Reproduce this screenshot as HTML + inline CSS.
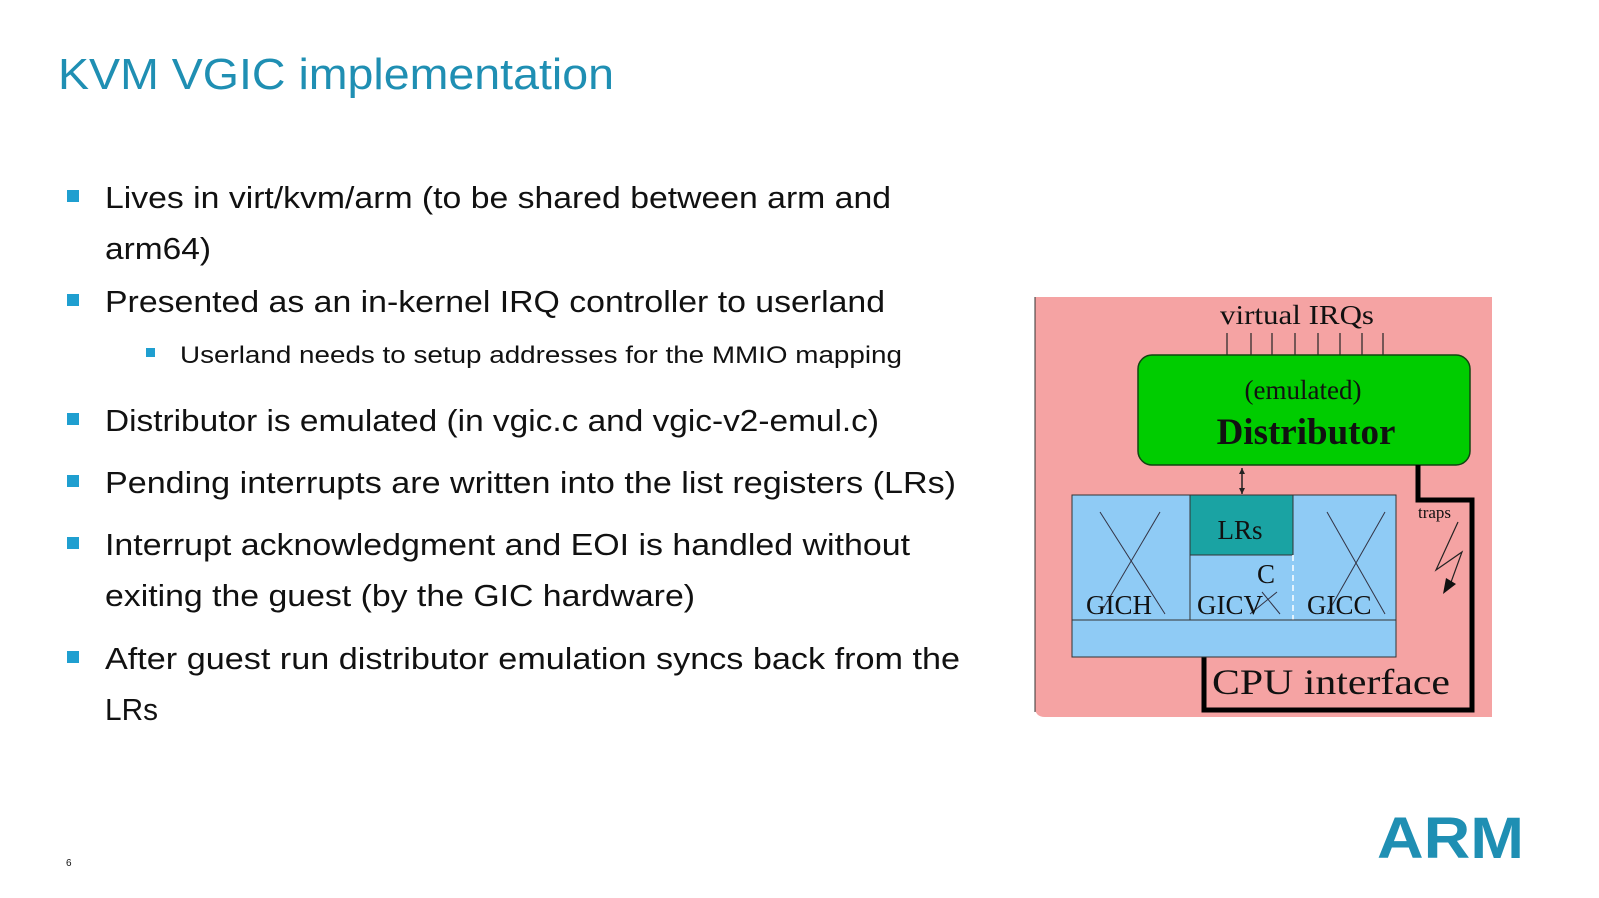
<!DOCTYPE html>
<html><head><meta charset="utf-8"><style>
html,body{margin:0;padding:0;background:#fff;}
svg{display:block}
</style></head><body>
<svg width="1599" height="898" viewBox="0 0 1599 898" xmlns="http://www.w3.org/2000/svg" font-family="Liberation Sans, sans-serif">
<rect width="1599" height="898" fill="#fff"/>
<text x="58" y="89" font-size="44" fill="#1f8fb3" textLength="556" lengthAdjust="spacingAndGlyphs">KVM VGIC implementation</text>
<g fill="#1f9fd0">
<rect x="67" y="190" width="12" height="12"/>
<rect x="67" y="294" width="12" height="12"/>
<rect x="146" y="348" width="9" height="9"/>
<rect x="67" y="413" width="12" height="12"/>
<rect x="67" y="475" width="12" height="12"/>
<rect x="67" y="537" width="12" height="12"/>
<rect x="67" y="651" width="12" height="12"/>
</g>
<g fill="#111" font-size="31">
<text x="105" y="208" textLength="786" lengthAdjust="spacingAndGlyphs">Lives in virt/kvm/arm (to be shared between arm and</text>
<text x="105" y="259" textLength="106" lengthAdjust="spacingAndGlyphs">arm64)</text>
<text x="105" y="312" textLength="780" lengthAdjust="spacingAndGlyphs">Presented as an in-kernel IRQ controller to userland</text>
<text x="180" y="363" font-size="24" textLength="722" lengthAdjust="spacingAndGlyphs">Userland needs to setup addresses for the MMIO mapping</text>
<text x="105" y="431" textLength="774" lengthAdjust="spacingAndGlyphs">Distributor is emulated (in vgic.c and vgic-v2-emul.c)</text>
<text x="105" y="493" textLength="851" lengthAdjust="spacingAndGlyphs">Pending interrupts are written into the list registers (LRs)</text>
<text x="105" y="555" textLength="805" lengthAdjust="spacingAndGlyphs">Interrupt acknowledgment and EOI is handled without</text>
<text x="105" y="606" textLength="590" lengthAdjust="spacingAndGlyphs">exiting the guest (by the GIC hardware)</text>
<text x="105" y="669" textLength="855" lengthAdjust="spacingAndGlyphs">After guest run distributor emulation syncs back from the</text>
<text x="105" y="720" textLength="53" lengthAdjust="spacingAndGlyphs">LRs</text>
</g>
<text x="66" y="866" font-size="10" fill="#111">6</text>
<text x="1377" y="858" font-size="58" font-weight="bold" fill="#1f8fb3" textLength="147" lengthAdjust="spacingAndGlyphs">ARM</text>

<!-- diagram -->
<g font-family="Liberation Serif, serif">
<path d="M1035 297 H1492 V717 H1045 Q1035 717 1035 707 Z" fill="#f5a3a3"/>
<line x1="1035" y1="297" x2="1035" y2="712" stroke="#333" stroke-width="1"/>
<text x="1220" y="324" font-size="27" fill="#111" textLength="154" lengthAdjust="spacingAndGlyphs">virtual IRQs</text>
<g stroke="#222" stroke-width="1.2">
<line x1="1227" y1="333" x2="1227" y2="356"/><line x1="1251" y1="333" x2="1251" y2="356"/>
<line x1="1272" y1="333" x2="1272" y2="356"/><line x1="1295" y1="333" x2="1295" y2="356"/>
<line x1="1318" y1="333" x2="1318" y2="356"/><line x1="1340" y1="333" x2="1340" y2="356"/>
<line x1="1362" y1="333" x2="1362" y2="356"/><line x1="1383" y1="333" x2="1383" y2="356"/>
</g>
<rect x="1138" y="355" width="332" height="110" rx="14" fill="#00cc00" stroke="#114411" stroke-width="1.5"/>
<text x="1303" y="399" font-size="27" text-anchor="middle" fill="#111">(emulated)</text>
<text x="1306" y="444" font-size="37" font-weight="bold" text-anchor="middle" fill="#111">Distributor</text>
<path d="M1418 465 V500 H1472 V710 H1204 V657" fill="none" stroke="#000" stroke-width="5"/>
<line x1="1242" y1="468" x2="1242" y2="494" stroke="#222" stroke-width="1.5"/>
<path d="M1239 474 L1242 468 L1245 474 Z M1239 488 L1242 494 L1245 488 Z" fill="#222"/>
<rect x="1072" y="495" width="324" height="162" fill="#8fcbf5" stroke="#333" stroke-width="1"/>
<rect x="1190" y="495" width="103" height="60" fill="#1aa3a3" stroke="#333" stroke-width="1"/>
<line x1="1190" y1="495" x2="1190" y2="620" stroke="#333"/>
<line x1="1293" y1="555" x2="1293" y2="620" stroke="#fff" stroke-dasharray="6 4" stroke-width="1.5"/>
<line x1="1072" y1="620" x2="1396" y2="620" stroke="#333"/>
<g stroke="#334" stroke-width="1">
<line x1="1100" y1="512" x2="1165" y2="614"/><line x1="1160" y1="512" x2="1100" y2="614"/>
<line x1="1327" y1="512" x2="1385" y2="614"/><line x1="1385" y1="512" x2="1327" y2="614"/>
<line x1="1250" y1="614" x2="1277" y2="592"/><line x1="1262" y1="592" x2="1280" y2="614"/>
</g>
<text x="1240" y="539" font-size="27" text-anchor="middle" fill="#111">LRs</text>
<text x="1266" y="583" font-size="27" text-anchor="middle" fill="#111">C</text>
<text x="1086" y="614" font-size="27" fill="#111">GICH</text>
<text x="1197" y="614" font-size="27" fill="#111">GICV</text>
<text x="1307" y="614" font-size="27" fill="#111">GICC</text>
<text x="1212" y="694" font-size="36" fill="#111" textLength="238" lengthAdjust="spacingAndGlyphs">CPU interface</text>
<text x="1418" y="518" font-size="17" fill="#111">traps</text>
<path d="M1458 522 L1436 570 L1462 552 L1450 585" fill="none" stroke="#222" stroke-width="1.2"/>
<path d="M1443 594 L1446 578 L1456 584 Z" fill="#111"/>
</g>
</svg>
</body></html>
